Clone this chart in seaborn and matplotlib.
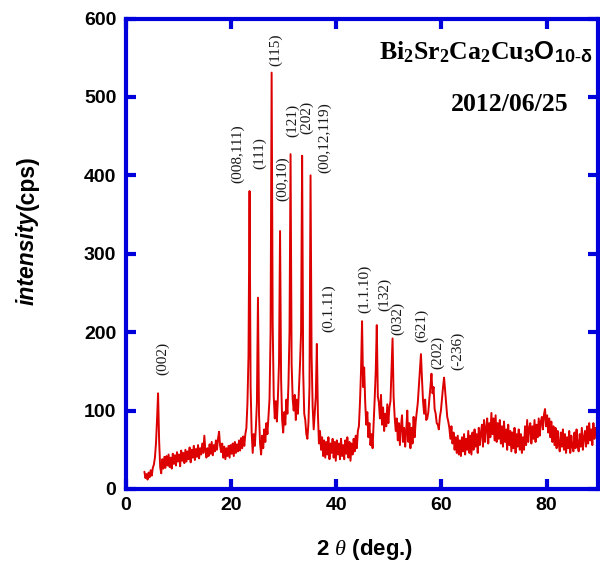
import numpy as np
import pandas as pd
import matplotlib
matplotlib.use("Agg")
import matplotlib.pyplot as plt
import seaborn as sns

# ---- data ----
two_theta_start = 3.5   # deg, first sample
two_theta_step = 0.2    # deg, sampling step

intensity = [
    22, 14, 19, 12, 21, 15, 24, 17, 27, 31,        # 3.5 - 5.3
    40, 58, 88, 122, 62, 28, 20, 38, 26, 41,       # 5.5 - 7.3
    27, 42, 30, 44, 28, 40, 26, 45, 32, 43,        # 7.5 - 9.3
    30, 47, 35, 44, 29, 49, 36, 46, 33, 50,        # 9.5 - 11.3
    35, 48, 38, 53, 34, 50, 40, 55, 37, 51,        # 11.5 - 13.3
    41, 56, 39, 52, 44, 58, 46, 68, 49, 40,        # 13.5 - 15.3
    52, 42, 57, 45, 60, 43, 56, 48, 62, 50,        # 15.5 - 17.3
    64, 73, 55, 47, 58, 40, 54, 38, 52, 42,        # 17.5 - 19.3
    55, 40, 56, 45, 58, 42, 60, 46, 57, 48,        # 19.5 - 21.3
    62, 49, 65, 52, 67, 55, 70, 78, 110, 170,      # 21.5 - 23.3
    380, 130, 72, 46, 70, 55, 78, 110, 244, 95,    # 23.5 - 25.3
    58, 44, 68, 52, 76, 60, 84, 70, 92, 115,       # 25.5 - 27.3
    200, 531, 210, 118, 90, 112, 86, 118, 160, 329,  # 27.5 - 29.3
    140, 88, 72, 98, 82, 114, 96, 134, 200, 427,   # 29.5 - 31.3
    160, 115, 100, 120, 88, 114, 96, 128, 160, 200,  # 31.5 - 33.3
    425, 150, 96, 88, 70, 64, 84, 130, 400, 170,   # 33.5 - 35.3
    105, 76, 98, 118, 185, 96, 58, 74, 50, 66,     # 35.5 - 37.3
    42, 62, 40, 60, 44, 66, 38, 58, 46, 64,        # 37.5 - 39.3
    40, 60, 36, 62, 44, 58, 38, 64, 42, 56,        # 39.5 - 41.3
    38, 62, 45, 66, 40, 60, 36, 58, 44, 64,        # 41.5 - 43.3
    48, 68, 52, 74, 80, 110, 150, 214, 130, 155,   # 43.5 - 45.3
    110, 82, 98, 66, 84, 56, 70, 52, 82, 115,      # 45.5 - 47.3
    150, 209, 118, 110, 90, 120, 82, 104, 74, 96,  # 47.5 - 49.3
    80, 108, 84, 104, 112, 150, 192, 118, 92, 74,  # 49.5 - 51.3
    90, 62, 84, 56, 80, 94, 60, 78, 54, 74,        # 51.5 - 53.3
    100, 60, 84, 52, 78, 58, 92, 66, 86, 98,       # 53.5 - 55.3
    110, 130, 150, 172, 140, 112, 96, 114, 88, 90,   # 55.5 - 57.3
    98, 115, 130, 147, 122, 130, 102, 96, 84, 82,    # 57.5 - 59.3
    76, 92, 100, 115, 130, 142, 125, 108, 92, 86,    # 59.5 - 61.3
    78, 64, 80, 58, 72, 50, 66, 46, 68, 44,        # 61.5 - 63.3
    62, 42, 66, 48, 70, 44, 64, 50, 74, 46,        # 63.5 - 65.3
    68, 44, 72, 50, 76, 54, 70, 46, 78, 56,        # 65.5 - 67.3
    72, 82, 54, 88, 60, 78, 90, 58, 84, 66,        # 67.5 - 69.3
    97, 70, 90, 62, 94, 60, 84, 64, 88, 58,        # 69.5 - 71.3
    80, 54, 86, 60, 76, 50, 82, 56, 74, 48,        # 71.5 - 73.3
    72, 52, 78, 46, 70, 54, 76, 50, 70, 46,        # 73.5 - 75.3
    66, 50, 80, 56, 88, 60, 78, 84, 58, 80,        # 75.5 - 77.3
    64, 88, 60, 82, 66, 90, 68, 86, 92, 76,        # 77.5 - 79.3
    95, 102, 80, 94, 72, 90, 66, 86, 60, 80,       # 79.5 - 81.3
    56, 78, 52, 74, 58, 48, 72, 54, 76, 50,        # 81.5 - 83.3
    70, 46, 66, 52, 74, 46, 68, 54, 48, 72,        # 83.5 - 85.3
    52, 76, 56, 48, 70, 54, 78, 50, 66, 74,        # 85.5 - 87.3
    54, 80, 58, 84, 62, 76, 56, 84, 64, 78,        # 87.5 - 89.3
    70,                                            # 89.5
]
two_theta = two_theta_start + two_theta_step * np.arange(len(intensity))

peak_labels = ["(002)", "(008,111)", "(111)", "(115)", "(00,10)", "(121)", "(202)",
               "(00,12,119)", "(0.1.11)", "(1.1.10)", "(132)", "(032)", "(621)",
               "(202)", "(-236)"]
peak_label_x = [7.0, 21.3, 25.4, 28.5, 29.8, 31.7, 34.3, 37.8, 38.5, 45.4, 49.1,
                51.6, 56.2, 59.2, 63.0]
peak_label_y = [166, 428, 429, 560, 396, 470, 474, 448, 230, 255, 248, 217, 208,
                174, 176]

x_ticks = [0, 20, 40, 60, 80]
y_ticks = [0, 100, 200, 300, 400, 500, 600]

# ---- style ----
sns.set_style("ticks")
plt.rcParams["font.family"] = ["Liberation Sans", "DejaVu Sans"]
plt.rcParams["mathtext.fontset"] = "custom"
plt.rcParams["mathtext.bf"] = "Liberation Serif:bold"
plt.rcParams["mathtext.rm"] = "Liberation Serif"
plt.rcParams["mathtext.it"] = "Liberation Serif:italic"
plt.rcParams["mathtext.sf"] = "Liberation Sans:bold"

blue = "#0000dd"
red = "#dd0000"

fig = plt.figure(figsize=(6.0, 5.73), dpi=100)
ax = fig.add_axes([0.21, 0.1466, 0.786, 0.8211])

df = pd.DataFrame({"two_theta": two_theta, "intensity": intensity})
sns.lineplot(data=df, x="two_theta", y="intensity", ax=ax, color=red,
             linewidth=1.4, estimator=None, sort=False)

ax.set_xlim(0, 89.7)
ax.set_ylim(0, 600)
ax.set_xticks(x_ticks)
ax.set_yticks(y_ticks)
ax.set_xlabel("")
ax.set_ylabel("")

for s in ax.spines.values():
    s.set_visible(True)
    s.set_color(blue)
    s.set_linewidth(3)
ax.tick_params(axis="both", which="major", direction="in", length=7, width=3,
               color=blue, top=True, right=True, labelsize=14, labelcolor="black")
ax.tick_params(axis="y", pad=7)
ax.tick_params(axis="x", pad=6)
for lab in ax.get_xticklabels() + ax.get_yticklabels():
    lab.set_fontweight("bold")

for t, x, y in zip(peak_labels, peak_label_x, peak_label_y):
    ax.text(x, y, t, rotation=90, ha="center", va="center", fontsize=11,
            family="Liberation Serif", color="#1a1a1a")

# compound and date
fig.text(592 / 600, 1 - 59 / 573,
         r"$\mathbf{Bi_2Sr_2Ca_2Cu}_{\mathsf{3}}\mathsf{O}_{\mathsf{10}\text{-}\mathsf{\delta}}$",
         ha="right", va="baseline", fontsize=18.5, color="black")
fig.text(568 / 600, 1 - 110.7 / 573, "2012/06/25", ha="right", va="baseline",
         fontsize=18.5, fontweight="bold", family="Liberation Serif", color="black")

# y axis label: italic "intensity" followed by upright "(cps)"
t1 = fig.text(27 / 600, 1 - 305 / 573, "intensity", rotation=90, rotation_mode="anchor",
              ha="left", va="center", fontsize=16.5, fontweight="bold", fontstyle="italic",
              color="black")
fig.canvas.draw()
bb = t1.get_window_extent().transformed(fig.transFigure.inverted())
fig.text(27 / 600, bb.y1 + 0.002, "(cps)", rotation=90, rotation_mode="anchor",
         ha="left", va="center", fontsize=16.5, fontweight="bold", color="black")

fig.text(365 / 600, 1 - 550 / 573, r"2 $\mathit{\theta}$ (deg.)", ha="center",
         va="center", fontsize=16, fontweight="bold", color="black")

fig.savefig("out.png", dpi=100)
